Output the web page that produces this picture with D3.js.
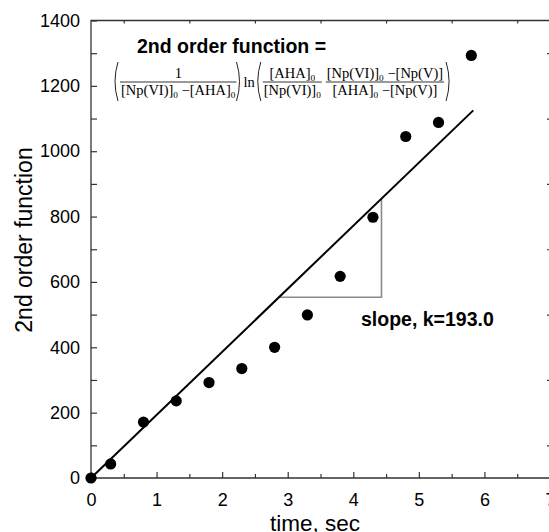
<!DOCTYPE html>
<html>
<head>
<meta charset="utf-8">
<script src="https://cdn.jsdelivr.net/npm/d3@7"></script>
<style>
    body { margin: 0; background: #fff; }
    svg { display: block; }
</style>
</head>
<body>
<svg id="chart" width="549" height="532"></svg>
<script>
// measured points
var timeSec     = [0, 0.3, 0.8, 1.3, 1.8, 2.3, 2.8, 3.3, 3.8, 4.3, 4.8, 5.3, 5.8];
var secondOrder = [0, 43, 171, 236, 292, 335, 400, 499, 617, 798, 1045, 1088, 1293];

// linear fit (slope 193.0) and the slope triangle
var fitTime  = [0, 5.83];
var fitValue = [0, 1125];
var triTime  = [2.87, 4.43];
var triValue = [553, 856];

var xMajor = [0, 1, 2, 3, 4, 5, 6, 7];
var xMinor = [0.5, 1.5, 2.5, 3.5, 4.5, 5.5, 6.5];
var yMajor = [0, 200, 400, 600, 800, 1000, 1200, 1400];
var yMinor = [100, 300, 500, 700, 900, 1100, 1300];

var xTitle = "time, sec";
var yTitle = "2nd order function";
var titleLabel = "2nd order function =";
var slopeLabel = "slope, k=193.0";

var sans = "'Liberation Sans', Arial, sans-serif";
var serif = "'Liberation Serif', 'Times New Roman', serif";

var margin = {top: 20.5, right: 0, bottom: 54, left: 91};
var svg = d3.select("#chart");
var width = 550 - margin.left;
var height = 478 - margin.top;

var x = d3.scaleLinear().domain([0, 7]).range([0, width]);
var y = d3.scaleLinear().domain([0, 1400]).range([height, 0]);

var g = svg.append("g")
    .attr("transform", "translate(" + margin.left + "," + margin.top + ")");

//axes with inward ticks
function styleAxis(sel) {
    sel.select(".domain").remove();
    sel.selectAll("line").attr("stroke", "#333").attr("stroke-width", 1.2);
    sel.selectAll("text").attr("fill", "#000")
        .style("font-family", sans).style("font-size", "18px");
}

g.append("g").attr("transform", "translate(0," + height + ")")
    .call(d3.axisBottom(x).tickValues(xMajor).tickSize(-6).tickPadding(15.5)
        .tickFormat(d3.format("d")))
    .call(styleAxis);
g.append("g").attr("transform", "translate(0," + height + ")")
    .call(d3.axisBottom(x).tickValues(xMinor).tickSize(-4).tickFormat(""))
    .call(styleAxis);
g.append("g")
    .call(d3.axisLeft(y).tickValues(yMajor).tickSize(-6).tickPadding(11)
        .tickFormat(d3.format("d")))
    .call(styleAxis);
g.append("g")
    .call(d3.axisLeft(y).tickValues(yMinor).tickSize(-6).tickFormat(""))
    .call(styleAxis);
g.append("g")
    .call(d3.axisTop(x).tickValues(xMinor).tickSize(-3).tickFormat(""))
    .call(styleAxis);
g.append("g").attr("transform", "translate(" + width + ",0)")
    .call(d3.axisRight(y).tickValues(yMinor).tickSize(-3).tickFormat(""))
    .call(styleAxis);

g.append("path")
    .attr("d", "M" + width + ",0H0V" + height + "H" + width + "V0")
    .attr("fill", "none")
    .attr("stroke", "#333")
    .attr("stroke-width", 1.3);

// slope triangle
g.append("path")
    .attr("d", "M" + x(triTime[0]) + "," + y(triValue[0]) +
        "H" + x(triTime[1]) + "V" + y(triValue[1]))
    .attr("fill", "none")
    .attr("stroke", "#8a8a8a")
    .attr("stroke-width", 1.6);

// fit line
g.append("line")
    .attr("x1", x(fitTime[0])).attr("y1", y(fitValue[0]))
    .attr("x2", x(fitTime[1])).attr("y2", y(fitValue[1]))
    .attr("stroke", "#000")
    .attr("stroke-width", 2);

g.selectAll("circle.pt")
    .data(timeSec)
    .enter().append("circle")
    .attr("class", "pt")
    .attr("cx", function (d) { return x(d); })
    .attr("cy", function (d, i) { return y(secondOrder[i]); })
    .attr("r", 5.6)
    .attr("fill", "#000");

// axis titles
svg.append("text")
    .attr("x", 315).attr("y", 531)
    .attr("text-anchor", "middle")
    .style("font-family", sans).style("font-size", "22.5px")
    .text(xTitle);

svg.append("text")
    .attr("transform", "translate(32,240) rotate(-90)")
    .attr("text-anchor", "middle")
    .style("font-family", sans).style("font-size", "23px")
    .text(yTitle);

svg.append("text")
    .attr("x", 361).attr("y", 326)
    .style("font-family", sans).style("font-size", "19.5px")
    .attr("font-weight", "bold")
    .text(slopeLabel);

svg.append("text")
    .attr("x", 137).attr("y", 53)
    .style("font-family", sans).style("font-size", "19.5px")
    .attr("font-weight", "bold")
    .text(titleLabel);

// formula block
var fx = 113;
var fs = 14.5;
var barY = 82;
var parTop = 62, parBot = 101;
var formula = svg.append("g").attr("class", "formula");

function paren(open) {
    var mid = (parTop + parBot) / 2;
    var d = open
        ? "M" + (fx + 5) + "," + parTop + "Q" + (fx - 1) + "," + mid + " " + (fx + 5) + "," + parBot
        : "M" + fx + "," + parTop + "Q" + (fx + 6) + "," + mid + " " + fx + "," + parBot;
    formula.append("path").attr("d", d)
        .attr("fill", "none").attr("stroke", "#222").attr("stroke-width", 1);
    fx += 7;
}

// parts: array of [text, isSub]
function term(parts, baseY) {
    var t = formula.append("text")
        .attr("y", baseY)
        .style("font-family", serif).style("font-size", fs + "px");
    var sub = false;
    parts.forEach(function (p) {
        var s = t.append("tspan").text(p[0]);
        if (p[1] && !sub) { s.attr("dy", 3).style("font-size", (fs * 0.64) + "px"); sub = true; }
        else if (!p[1] && sub) { s.attr("dy", -3); sub = false; }
        else if (p[1]) { s.style("font-size", (fs * 0.64) + "px"); }
    });
    return t;
}

function fraction(num, den) {
    var n = term(num, barY - 4);
    var d = term(den, barY + 13);
    var w = Math.max(n.node().getComputedTextLength(), d.node().getComputedTextLength()) + 2;
    n.attr("x", fx + w / 2).attr("text-anchor", "middle");
    d.attr("x", fx + w / 2).attr("text-anchor", "middle");
    formula.append("line")
        .attr("x1", fx).attr("x2", fx + w)
        .attr("y1", barY).attr("y2", barY)
        .attr("stroke", "#000").attr("stroke-width", 0.8);
    fx += w;
}

paren(true);
fraction([["1"]], [["[Np(VI)]"], ["0", 1], [" \u2212[AHA]"], ["0", 1]]);
paren(false);
var ln = term([["ln"]], barY + 5).attr("x", fx);
fx += ln.node().getComputedTextLength() + 1;
paren(true);
fraction([["[AHA]"], ["0", 1]], [["[Np(VI)]"], ["0", 1]]);
fx += 4;
fraction([["[Np(VI)]"], ["0", 1], [" \u2212[Np(V)]"]], [["[AHA]"], ["0", 1], [" \u2212[Np(V)]"]]);
fx += 2;
paren(false);
</script>
</body>
</html>
